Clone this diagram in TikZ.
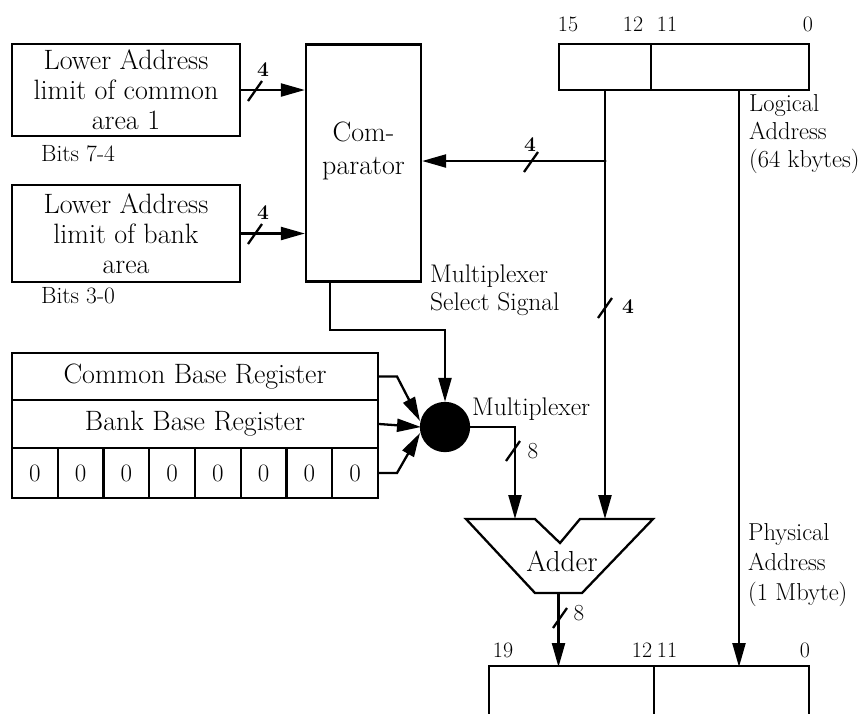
\documentclass[tikz,border=0pt]{standalone}
\usepackage{fontspec}
\usetikzlibrary{arrows.meta}
\begin{document}
\begin{tikzpicture}[x=1pt,y=-1pt,
  line width=2.3pt,
  arr/.style={-{Triangle[length=24pt,width=13pt]}},
  boxtext/.style={font=\fontsize{28}{30}\selectfont},
  regbox/.style={draw,inner sep=0pt,align=center,boxtext},
  cellbox/.style={draw,inner sep=0pt,minimum width=45.75pt,minimum height=50pt,font=\fontsize{25}{27}\selectfont},
  small/.style={font=\fontsize{23.5}{26}\selectfont},
  bitlab/.style={font=\fontsize{22}{24}\selectfont,inner sep=0pt},
  buslab/.style={font=\bfseries\fontsize{21}{22}\selectfont,inner sep=0pt},
  side/.style={font=\fontsize{24.5}{28}\selectfont,align=left,inner sep=0pt},
  bus/.pic={\draw[line width=2.3pt] (-7,10)--(7,-10);}
]
\useasboundingbox (0,0) rectangle (858,713);

% left limit boxes
\node[regbox,minimum width=228pt,minimum height=92pt] (lim1) at (126,90) {Lower Address\\limit of common\\area 1};
\node[small,anchor=west,inner sep=0pt] (b74) at (40,154) {Bits 7-4};
\node[regbox,minimum width=228pt,minimum height=97pt] (lim2) at (126,233.5) {Lower Address\\limit of bank\\area};
\node[small,anchor=west,inner sep=0pt] (b30) at (40,296) {Bits 3-0};

% comparator
\node[regbox,minimum width=115pt,minimum height=237pt] (comp) at (363.5,163) {};
\node[boxtext,align=center,inner sep=0pt] (comptext) at (363.5,151) {Com-\\[3pt]parator};

% logical address register
\node[draw,inner sep=0pt,minimum width=92pt,minimum height=46pt] (lr1) at (605,67) {};
\node[draw,inner sep=0pt,minimum width=158pt,minimum height=46pt] (lr2) at (730,67) {};
\node[bitlab] (l15) at (568,24) {15};
\node[bitlab] (l12) at (633,24) {12};
\node[bitlab] (l11) at (667,24) {11};
\node[bitlab] (l0) at (808,24) {0};
\node[side,anchor=north west] (logtext) at (748,93) {Logical\\Address\\(64 kbytes)};

% base registers
\node[regbox,minimum width=366pt,minimum height=47pt] (cb) at (195,376.5) {Common Base Register};
\node[regbox,minimum width=366pt,minimum height=48pt] (bb) at (195,424) {Bank Base Register};
\foreach \i in {1,...,8}{
  \node[cellbox] (z\i) at ({12+45.75*(\i-0.5)},473) {0};
}

% multiplexer
\node[circle,fill=black,draw,minimum size=48pt,inner sep=0pt] (mux) at (445,427) {};
\node[font=\fontsize{25.5}{28}\selectfont,anchor=west,inner sep=0pt] (muxtext) at (471,409) {Multiplexer};
\node[font=\fontsize{25.5}{28}\selectfont,anchor=north west,align=left,inner sep=0pt] (seltext) at (429,264) {Multiplexer\\Select Signal};

% adder
\coordinate (a1) at (466,519);
\coordinate (a2) at (535,519);
\coordinate (a3) at (560,543);
\coordinate (a4) at (580,519);
\coordinate (a5) at (653,519);
\coordinate (a6) at (582,593);
\coordinate (a7) at (535,593);
\draw[line join=miter] (a1)--(a2)--(a3)--(a4)--(a5)--(a6)--(a7)--cycle;
\node[font=\fontsize{29}{30}\selectfont,inner sep=0pt] (addtext) at (562,561) {Adder};
\coordinate (ain1) at (515,519);
\coordinate (ain2) at (605,519);
\coordinate (aout) at (558.5,593);

% physical address register (open at the bottom edge)
\node[inner sep=0pt,minimum width=163pt,minimum height=46pt] (pr1) at (571.5,690) {};
\node[inner sep=0pt,minimum width=155pt,minimum height=46pt] (pr2) at (730.5,690) {};
\draw (pr1.south west)--(pr1.north west)--(pr2.north east)--(pr2.south east);
\draw (pr1.north east)--(pr1.south east);
\node[bitlab] (p19) at (503,650) {19};
\node[bitlab] (p12) at (642,650) {12};
\node[bitlab] (p11) at (667,650) {11};
\node[bitlab] (p0) at (805,650) {0};
\node[side,anchor=north west,font=\fontsize{24.5}{30}\selectfont] (phytext) at (747,522) {Physical\\Address\\(1 Mbyte)};

% connectors
\draw[arr] (lim1.east) -- (lim1.east -| comp.west);
\pic at (255,91) {bus};
\node[buslab] (n4a) at (263,70) {4};
\draw[arr] (lim2.east) -- (lim2.east -| comp.west);
\pic at (255,234) {bus};
\node[buslab] (n4b) at (263,213) {4};

\coordinate (br) at (605,161);
\draw[arr] (lr1.south) -- (ain2);
\draw[arr] (br) -- (br -| comp.east);
\fill (br) circle (1.5pt);
\pic at (531,162) {bus};
\node[buslab] (n4c) at (530,145) {4};
\pic at (605,308) {bus};
\node[buslab] (n4d) at (628,307) {4};

\coordinate (lo) at (739,90);
\coordinate (pi) at (739,667);
\draw[arr] (lo) -- (pi);

\coordinate (cs) at (330,281.5);
\draw[arr] (cs) -- (330,330) -- (445,330) -- (mux.north);

\draw[arr] (cb.east) -- (397,376.5) -- (420,421);
\draw[arr] (bb.east) -- (421,427);
\draw[arr] (z8.east) -- (397,473) -- (420,433);

\draw[arr] (mux.east) -- (515,427) -- (ain1);
\pic at (513,451) {bus};
\node[font=\fontsize{23}{25}\selectfont,inner sep=0pt] (n8a) at (533,451) {8};

\coordinate (pin1) at (558.5,667);
\draw[arr] (aout) -- (pin1);
\pic at (560,618) {bus};
\node[font=\fontsize{23}{25}\selectfont,inner sep=0pt] (n8b) at (579,613) {8};
\end{tikzpicture}
\end{document}
